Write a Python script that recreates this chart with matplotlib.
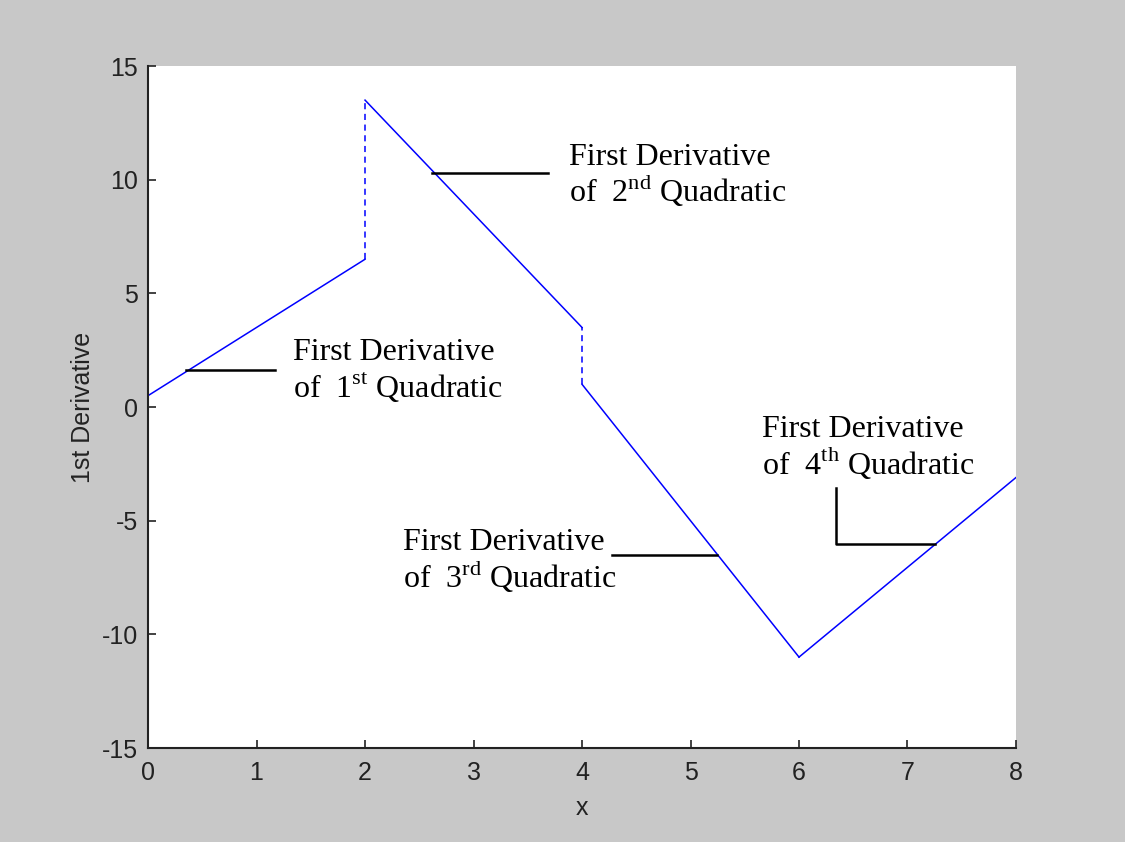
import numpy as np
import matplotlib.pyplot as plt

plt.rcParams['mathtext.fontset'] = 'custom'
plt.rcParams['mathtext.rm'] = 'Liberation Serif'
plt.rcParams['axes.unicode_minus'] = False

# Piecewise first derivative: one straight piece per quadratic
seg_x = [[0, 2], [2, 4], [4, 6], [6, 8]]
seg_y = [[0.5, 6.5], [13.5, 3.5], [1.0, -11.0], [-11.0, -3.1]]

# Discontinuities between pieces
jump_x = [2, 4]
jump_lo = [6.5, 1.0]
jump_hi = [13.5, 3.5]

# Annotation labels: (x, first-line baseline, second-line baseline, ordinal, suffix)
label_x = [1.34, 3.88, 2.35, 5.66]
label_y1 = [2.07, 10.64, -6.29, -1.32]
label_y2 = [0.39, 9.02, -7.97, -2.95]
label_num = ['1', '2', '3', '4']
label_sup = ['st', 'nd', 'rd', 'th']

# Leader lines
lead_x = [[0.35, 1.17], [2.62, 3.69], [4.28, 5.24], [6.34, 6.34, 7.25]]
lead_y = [[1.63, 1.63], [10.3, 10.3], [-6.5, -6.5], [-3.57, -6.03, -6.03]]

fig = plt.figure(figsize=(11.25, 8.42), dpi=100, facecolor='#c8c8c8')
ax = fig.add_axes([0.1316, 0.1116, 0.7715, 0.81])
ax.set_facecolor('white')

for xs, ys in zip(seg_x, seg_y):
    ax.plot(xs, ys, color='#0000ff', lw=1.1)
for jx, lo, hi in zip(jump_x, jump_lo, jump_hi):
    ax.plot([jx, jx], [lo, hi], color='#0000ff', lw=1.1, ls=(0, (4, 3)))

for xs, ys in zip(lead_x, lead_y):
    ax.plot(xs, ys, color='black', lw=1.8)

tfont = dict(family='Liberation Serif', fontsize=23, color='black', va='baseline', ha='left')
for x, y1, y2, n, s in zip(label_x, label_y1, label_y2, label_num, label_sup):
    ax.text(x, y1, 'First Derivative', **tfont)
    ax.text(x, y2, 'of  ' + n + r'$^{\mathrm{' + s + '}}$ Quadratic', **tfont)

ax.set_xlim(0, 8)
ax.set_ylim(-15, 15)
ax.set_xticks(range(0, 9))
ax.set_yticks(range(-15, 16, 5))
for side in ['top', 'right']:
    ax.spines[side].set_visible(False)
for side in ['left', 'bottom']:
    ax.spines[side].set_color('#222222')
    ax.spines[side].set_linewidth(1.5)
ax.tick_params(direction='in', length=6, width=1.2, colors='#222222', labelsize=18)
ax.tick_params(axis='x', pad=9)
ax.tick_params(axis='y', pad=7)
for lab in ax.get_xticklabels() + ax.get_yticklabels():
    lab.set_family('Liberation Sans')

ax.set_xlabel('x', fontsize=18, family='Liberation Sans', color='#222222', labelpad=8)
ax.set_ylabel('1st Derivative', fontsize=18, family='Liberation Sans', color='#222222', labelpad=5)

fig.savefig('out.png', dpi=100, facecolor=fig.get_facecolor())
